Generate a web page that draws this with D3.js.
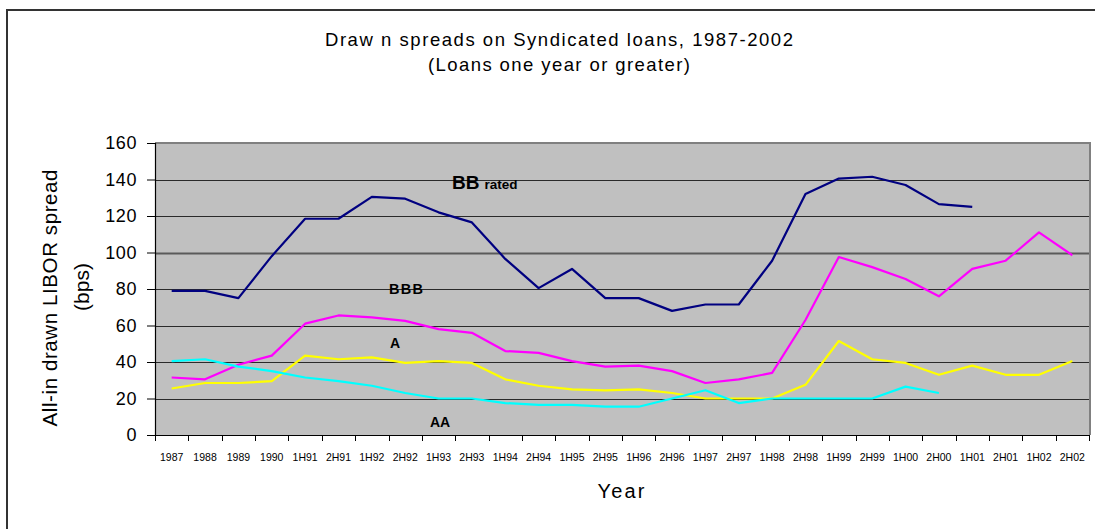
<!DOCTYPE html>
<html>
<head>
<meta charset="utf-8">
<script src="https://cdn.jsdelivr.net/npm/d3@7"></script>
<style>
  html, body { margin: 0; padding: 0; background: #fff; }
  svg { display: block; font-family: Arial, "Liberation Sans", sans-serif; }
</style>
</head>
<body>
<svg id="chart" width="1095" height="529"></svg>
<script>
const categories = ["1987","1988","1989","1990","1H91","2H91","1H92","2H92","1H93","2H93","1H94","2H94","1H95","2H95","1H96","2H96","1H97","2H97","1H98","2H98","1H99","2H99","1H00","2H00","1H01","2H01","1H02","2H02"];
const bbValues  = [79,79,75,98,118.5,118.5,130.5,129.5,122,116.5,96.5,80.5,91,75,75,68,71.5,71.5,95.5,132,140.5,141.5,137,126.5,125,null,null,null];
const bbbValues = [31.5,30.5,38.5,43.5,61,65.5,64.5,62.5,58,56,46,45,40.5,37.5,38,35,28.5,30.5,34,63,97.5,92,85.5,76,91,95.5,111,98.5];
const aValues   = [25.5,28.5,28.5,29.5,43.5,41.5,42.5,39.5,40.5,39.5,30.5,27,25,24.5,25,23,20,20,20,27.5,51.5,41.5,39.5,33,38,33,33,40.5];
const aaValues  = [40.5,41.5,37.5,35,31.5,29.5,27,23,20,20,17.5,16.5,16.5,15.5,15.5,20,24.5,17.5,20,20,20,20,26.5,23,null,null,null,null];
const yTicks = [0,20,40,60,80,100,120,140,160];
const seriesNames = ["BB","BBB","A","AA"];
const seriesColors = ["#000080","#ff00ff","#ffff00","#00ffff"];

const svg = d3.select("#chart");
const L = 155, R = 1089, T = 143, B = 435;

// outer frame
svg.append("rect").attr("x",7).attr("y",10).attr("width",1200).attr("height",600)
  .attr("fill","none").attr("stroke","#333").attr("stroke-width",2);

const x = d3.scaleBand().domain(categories).range([L, R]).paddingInner(0).paddingOuter(0);
const y = d3.scaleLinear().domain([0,160]).range([B, T]);

// plot area
svg.append("rect").attr("x",L).attr("y",T).attr("width",R-L).attr("height",B-T).attr("fill","#c0c0c0");

// gridlines
svg.append("g").selectAll("line").data(yTicks.filter(d=>d>0 && d<160)).join("line")
  .attr("x1",L).attr("x2",R).attr("y1",d=>Math.round(y(d))+0.5).attr("y2",d=>Math.round(y(d))+0.5)
  .attr("stroke", d=> d===100 ? "#5a5a5a" : "#2a2a2a").attr("stroke-width", d=> d===100 ? 2 : 1);

// plot border top/right
svg.append("path").attr("d",`M${L},${T} H${R+1} V${B}`).attr("fill","none").attr("stroke","#808080").attr("stroke-width",2);

// series
const allSeries = [bbValues,bbbValues,aValues,aaValues];
const line = d3.line().defined(d=>d.v!==null).x(d=>x(d.c)+x.bandwidth()/2).y(d=>y(d.v));
allSeries.forEach((vals,i)=>{
  const data = categories.map((c,j)=>({c, v: vals[j]}));
  svg.append("path").datum(data).attr("d",line).attr("fill","none")
    .attr("stroke",seriesColors[i]).attr("stroke-width",2.2).attr("stroke-linejoin","round");
});

// y axis
const yAxis = svg.append("g").attr("transform",`translate(${L},0)`)
  .call(d3.axisLeft(y).tickValues(yTicks).tickSize(8).tickPadding(10));
yAxis.select(".domain").attr("stroke","#000").attr("stroke-width",1.2);
yAxis.selectAll(".tick line").attr("stroke","#000");
yAxis.selectAll(".tick text").attr("font-size",18).attr("fill","#000")
  .attr("font-family","Arial, 'Liberation Sans', sans-serif").attr("letter-spacing","0.6px");

// x axis
const xAxis = svg.append("g").attr("transform",`translate(0,${B})`)
  .call(d3.axisBottom(x).tickSize(0).tickPadding(19));
xAxis.select(".domain").attr("stroke","#000").attr("stroke-width",1.2);
xAxis.selectAll(".tick text").attr("font-size",10.5).attr("fill","#000")
  .attr("font-family","Arial, 'Liberation Sans', sans-serif");
// boundary ticks
const bounds = categories.map(c=>x(c)).concat([R]);
xAxis.append("g").selectAll("line").data(bounds).join("line")
  .attr("x1",d=>Math.round(d)+0.5).attr("x2",d=>Math.round(d)+0.5).attr("y1",0).attr("y2",6).attr("stroke","#000");

// titles
svg.append("text").attr("x",559).attr("y",46).attr("text-anchor","middle").attr("font-size",18.5)
  .attr("textLength",468).attr("lengthAdjust","spacing").text("Draw n spreads on Syndicated loans, 1987-2002");
svg.append("text").attr("x",559).attr("y",71).attr("text-anchor","middle").attr("font-size",18.5)
  .attr("textLength",262).attr("lengthAdjust","spacing").text("(Loans one year or greater)");
svg.append("text").attr("x",621).attr("y",497.5).attr("text-anchor","middle").attr("font-size",20)
  .attr("textLength",47).attr("lengthAdjust","spacing").text("Year");
svg.append("text").attr("transform","translate(57,298) rotate(-90)").attr("text-anchor","middle").attr("font-size",20.5)
  .attr("textLength",257).attr("lengthAdjust","spacing").text("All-in drawn LIBOR spread");
svg.append("text").attr("transform","translate(89,287) rotate(-90)").attr("text-anchor","middle").attr("font-size",21)
  .text("(bps)");

// series annotations
const bbLabel = svg.append("text").attr("x",452).attr("y",189).attr("font-weight","bold").attr("fill","#000");
bbLabel.append("tspan").attr("font-size",19).text(seriesNames[0]);
bbLabel.append("tspan").attr("font-size",13.5).attr("dx",5).text("rated");
svg.append("text").attr("x",389).attr("y",294).attr("font-weight","bold").attr("font-size",14.5)
  .attr("textLength",34).attr("lengthAdjust","spacing").text(seriesNames[1]);
svg.append("text").attr("x",390).attr("y",348).attr("font-weight","bold").attr("font-size",14).text(seriesNames[2]);
svg.append("text").attr("x",430).attr("y",427).attr("font-weight","bold").attr("font-size",14)
  .attr("textLength",20).attr("lengthAdjust","spacing").text(seriesNames[3]);
</script>
</body>
</html>
